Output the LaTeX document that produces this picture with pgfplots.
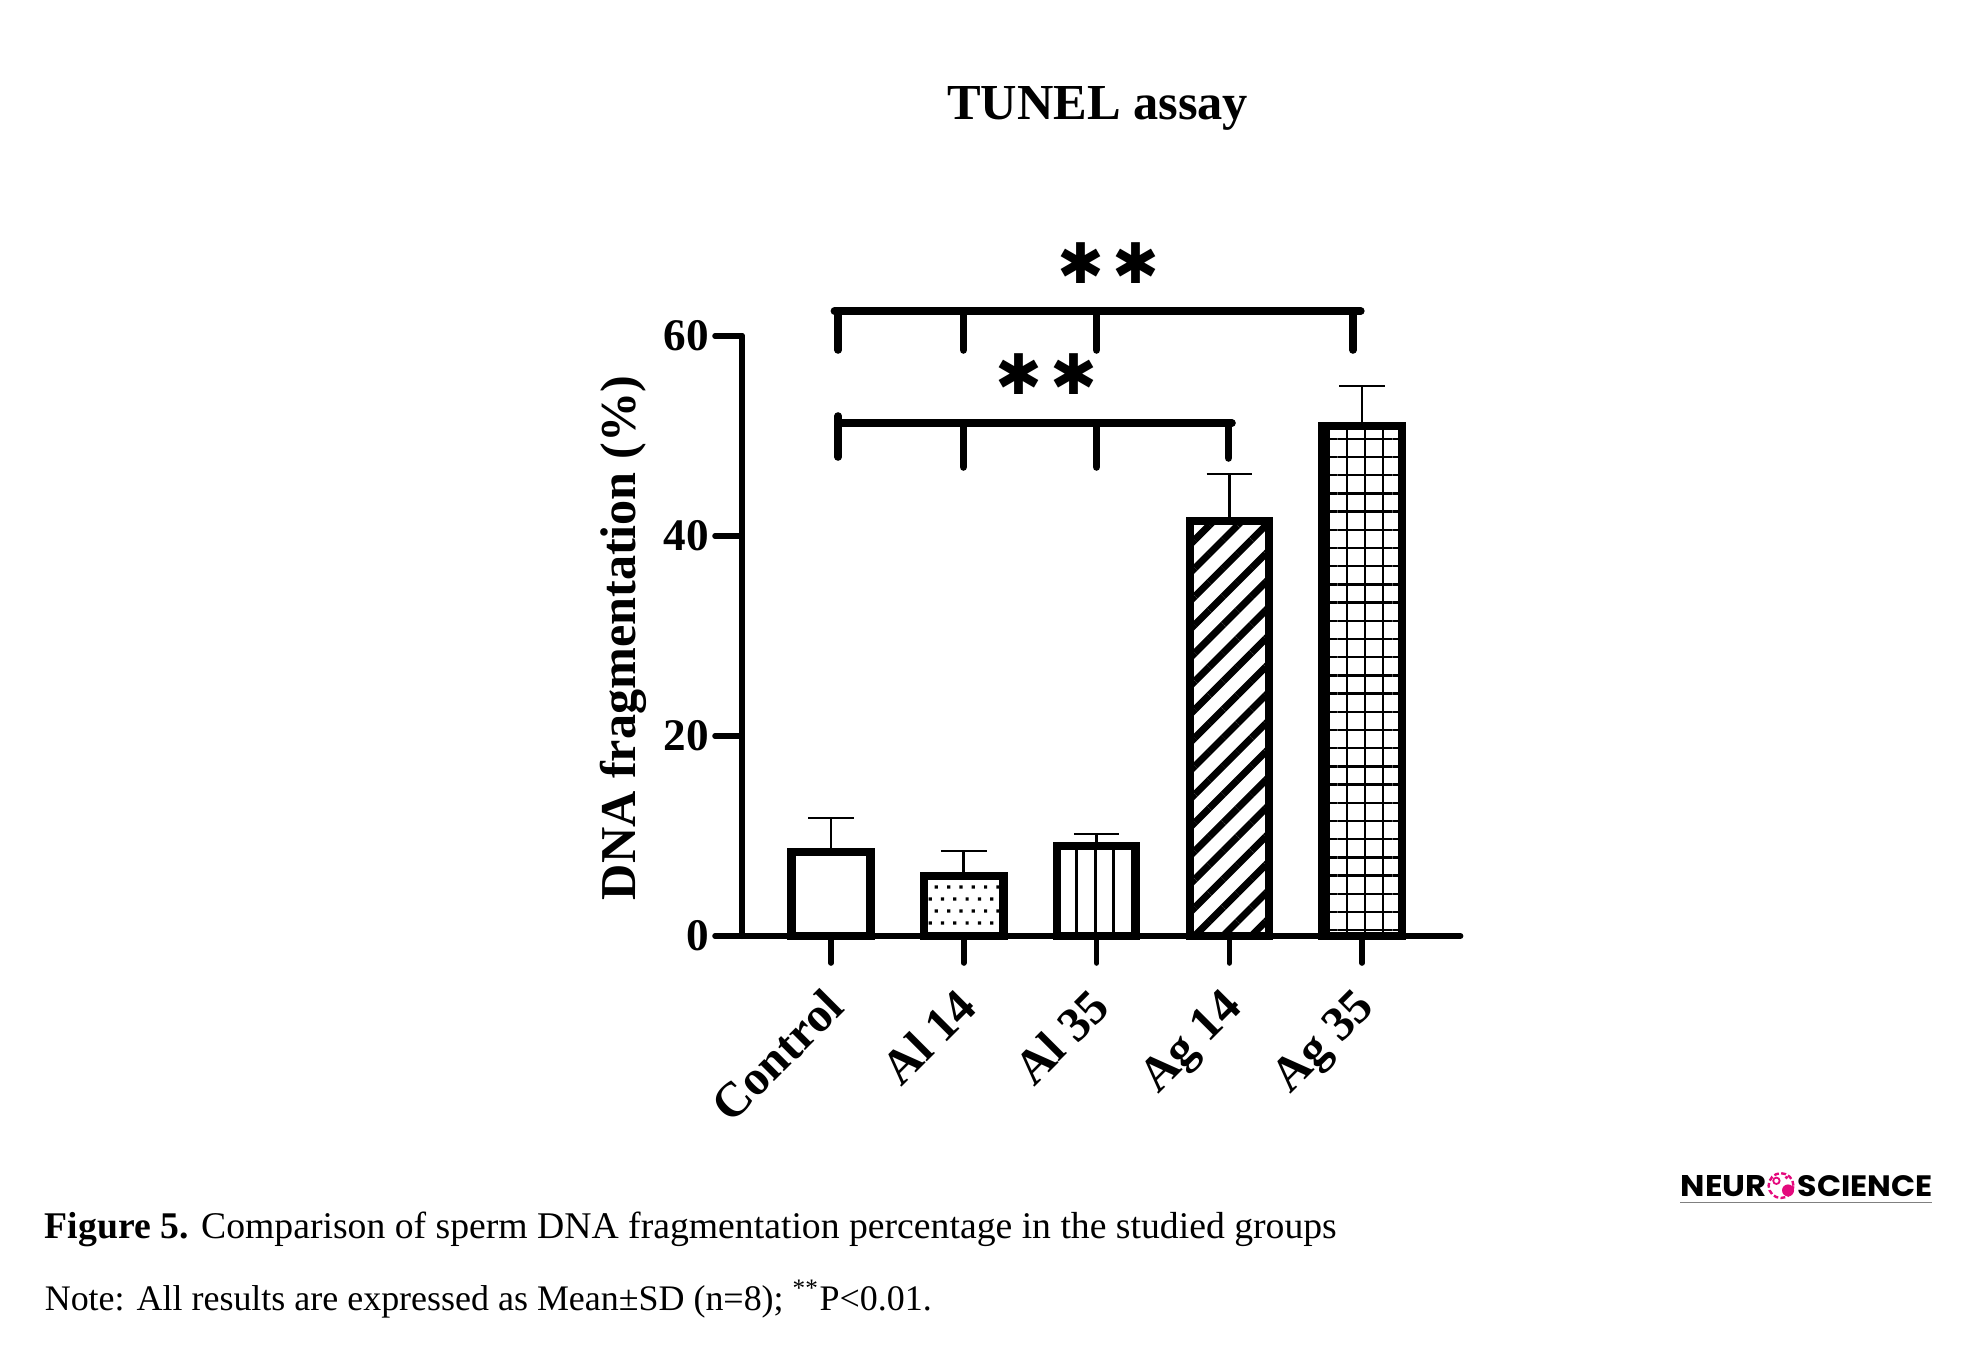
\documentclass[border=0pt]{standalone}
\usepackage{pgfplots}
\pgfplotsset{compat=1.18}
\usepackage{fontspec}
\setmainfont{Liberation Serif}
\newfontfamily\sansbold{Liberation Sans}
\newfontfamily\dejavu{DejaVu Sans}
\newfontfamily\logofont{Poppins}
\usetikzlibrary{patterns,patterns.meta}
\definecolor{logopink}{RGB}{228,10,125}
\pgfdeclarepatternformonly{stagdots}{\pgfqpoint{-0.5pt}{-0.5pt}}{\pgfqpoint{2.5pt}{3.5pt}}{\pgfqpoint{3.08pt}{6pt}}{%
  \pgfpathrectangle{\pgfqpoint{-0.4pt}{-0.4pt}}{\pgfqpoint{0.8pt}{0.8pt}}%
  \pgfpathrectangle{\pgfqpoint{1.14pt}{2.6pt}}{\pgfqpoint{0.8pt}{0.8pt}}%
  \pgfusepath{fill}}
\begin{document}
\begin{tikzpicture}
\begin{axis}[
  at={(185.5pt,-234pt)}, anchor=south west,
  scale only axis, width=179.6pt, height=150pt,
  xmin=-0.67, xmax=4.74, ymin=0, ymax=60,
  axis lines*=left,
  axis line style={line width=1.5pt, line cap=round},
  xtick={0,1,2,3,4},
  xticklabels={Control, Al 14, Al 35, Ag 14, Ag 35},
  ytick={0,20,40,60},
  tick align=outside,
  major tick length=6.75pt,
  tick style={line width=1.4pt, black, line cap=round},
  /pgf/number format/assume math mode=true,
  yticklabel style={font=\fontsize{11.3}{11.3}\selectfont\bfseries, inner sep=0pt, anchor=east, xshift=-1.3pt},
  xticklabel style={font=\fontsize{12.2}{12.2}\selectfont\bfseries, inner sep=0pt, xshift=-2.2pt, yshift=-5.5pt, rotate=45, anchor=north east},
  every axis y label/.style={at={(axis description cs:0,0.5)}, xshift=-26.75pt, yshift=-0.5pt, rotate=90, anchor=base, font=\fontsize{12.55}{12.55}\selectfont\bfseries},
  ylabel={DNA fragmentation (\%)},
  clip=false,
  error bars/y dir=plus,
  error bars/y explicit,
  error bars/error bar style={line width=0.65pt, black},
  error bars/error mark options={rotate=90, line width=0.65pt, mark size=5.7pt, black},
]
\addplot[ybar, bar width=19.8pt, bar shift=0pt, draw=black, line width=2.1pt, fill=white]
  coordinates {(0,8.4) +- (0,3.4)};
\addplot[ybar, bar width=19.8pt, bar shift=0pt, draw=black, line width=2.1pt, pattern=stagdots]
  coordinates {(1,6.0) +- (0,2.5)};
\addplot[ybar, bar width=19.8pt, bar shift=0pt, draw=black, line width=2.1pt, pattern={Lines[angle=90, distance=4.64pt, line width=0.75pt]}]
  coordinates {(2,9.0) +- (0,1.2)};
\addplot[ybar, bar width=19.8pt, bar shift=0pt, draw=black, line width=2.1pt, pattern={Lines[angle=45, distance=5.0pt, line width=1.75pt]}]
  coordinates {(3,41.5) +- (0,4.7)};
\addplot[ybar, bar width=19.8pt, bar shift=0pt, draw=black, line width=2.1pt, pattern={Hatch[distance=4.55pt, line width=0.58pt]}]
  coordinates {(4,51.0) +- (0,4.0)};
% significance brackets
\draw[line width=1.9pt, line cap=round, line join=round]
  (axis cs:0.026,62.5) -- (axis cs:3.99,62.5)
  (axis cs:0.055,62.5) -- (axis cs:0.055,58.6)
  (axis cs:0.997,62.5) -- (axis cs:0.997,58.6)
  (axis cs:2.0,62.5) -- (axis cs:2.0,58.6)
  (axis cs:3.93,62.5) -- (axis cs:3.93,58.6);
\draw[line width=1.9pt, line cap=round, line join=round]
  (axis cs:0.055,51.3) -- (axis cs:3.02,51.3)
  (axis cs:0.055,52.0) -- (axis cs:0.055,47.9)
  (axis cs:0.997,51.3) -- (axis cs:0.997,46.9)
  (axis cs:2.0,51.3) -- (axis cs:2.0,46.9)
  (axis cs:2.994,51.3) -- (axis cs:2.994,47.8);
\node[font=\fontsize{14}{14}\selectfont\dejavu\bfseries, inner sep=0pt, anchor=center] at (axis cs:2.09,67.3) [xshift=-6.9pt] {✱};
\node[font=\fontsize{14}{14}\selectfont\dejavu\bfseries, inner sep=0pt, anchor=center] at (axis cs:2.09,67.3) [xshift=6.9pt] {✱};
\node[font=\fontsize{14}{14}\selectfont\dejavu\bfseries, inner sep=0pt, anchor=center] at (axis cs:1.62,56.2) [xshift=-6.9pt] {✱};
\node[font=\fontsize{14}{14}\selectfont\dejavu\bfseries, inner sep=0pt, anchor=center] at (axis cs:1.62,56.2) [xshift=6.9pt] {✱};
\end{axis}
% title
\node[anchor=base, inner sep=0pt, font=\fontsize{12.6}{12.6}\selectfont\bfseries] at (274.4pt,-30pt) {TUNEL assay};
% caption
\node[anchor=base west, inner sep=0pt] at (11pt,-309.5pt) {\resizebox{323pt}{!}{\textbf{Figure 5.} Comparison of sperm DNA fragmentation percentage in the studied groups}};
\node[anchor=base west, inner sep=0pt] at (11pt,-327.5pt) {\resizebox{221.75pt}{!}{Note: All results are expressed as Mean±SD (n=8); \textsuperscript{**}P<0.01.}};
% logo
\node[anchor=base west, inner sep=0pt] at (420pt,-299pt) {\resizebox{21.5pt}{5.25pt}{\logofont\bfseries NEUR}};
\node[anchor=base west, inner sep=0pt] at (449.25pt,-299pt) {\resizebox{33.75pt}{5.25pt}{\logofont\bfseries SCIENCE}};
\draw[gray, line width=0.45pt] (420pt,-300.6pt) -- (483pt,-300.6pt);
\draw[logopink, line width=0.6pt, dash pattern=on 1.2pt off 0.6pt] (445.25pt,-296.4pt) circle (3.1pt);
\fill[logopink] (447pt,-297.6pt) circle (1.5pt);
\draw[logopink, line width=0.45pt] (444.1pt,-295.2pt) circle (0.8pt);
\fill[logopink] (446.6pt,-294.4pt) circle (0.45pt);
\pgfresetboundingbox
\path[use as bounding box] (0,0) rectangle (491.75pt,-341.75pt);
\end{tikzpicture}
\end{document}
